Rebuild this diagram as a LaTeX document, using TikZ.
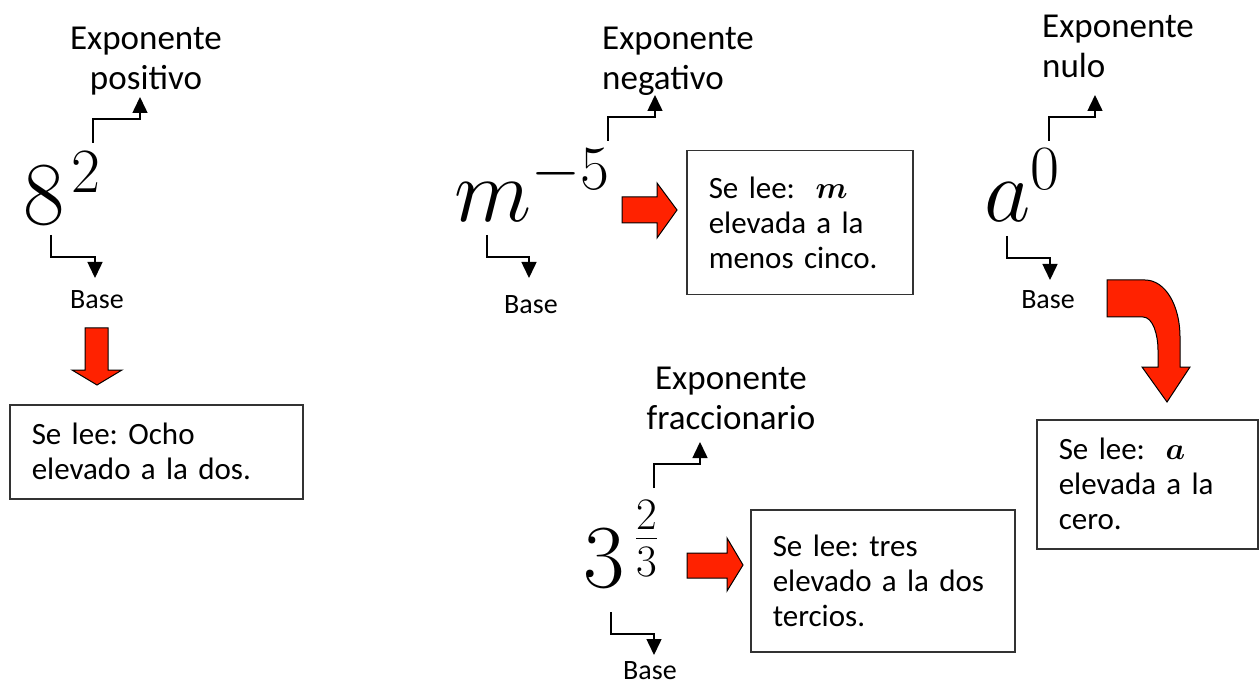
\RequirePackage{fix-cm}
\documentclass[tikz,border=0pt]{standalone}
\usepackage{amsmath}
\usepackage{fontspec}
\setmainfont{Carlito}
\usetikzlibrary{arrows.meta}

\definecolor{arrowred}{RGB}{255,34,0}
\definecolor{boxline}{RGB}{51,51,51}

\tikzset{
  pointer/.style={line width=1.5pt, -{Triangle[width=15pt,length=16pt]}},
  tagtext/.style={inner sep=0pt, font=\fontsize{35}{40}\selectfont},
  basetext/.style={inner sep=0pt, anchor=north, font=\fontsize{28}{32}\selectfont},
  power/.style={inner sep=0pt, anchor=base west, font=\fontsize{90}{90}\selectfont},
  readbox/.style={draw=boxline, line width=1.5pt, anchor=north west, align=left,
    inner xsep=22pt, inner ysep=4pt, font=\fontsize{31}{35}\selectfont},
  blockarrow/.style={fill=arrowred, draw=black, line width=1pt, line join=miter}
}

\begin{document}
\frenchspacing
\begin{tikzpicture}[x=1pt, y=-1pt]
    \useasboundingbox (0,0) rectangle (1260,684);

    % potencias
    \node[power] (pow1) at (23,225) {$8^{\mkern2mu 2}$};
    \node[power] (pow2) at (454,222) {$m^{-5}$};
    \node[power] (pow3) at (984,222) {$a^{0}$};
    \node[power] (pow4) at (583,587) {$3^{\,\frac{2}{3}}$};

    % nombres del exponente
    \node[tagtext, align=center, anchor=north] (exp1) at (146,27) {Exponente\\positivo};
    \node[tagtext, align=left, anchor=north west] (exp2) at (602,27) {Exponente\\negativo};
    \node[tagtext, align=left, anchor=north west] (exp3) at (1042,15) {Exponente\\nulo};
    \node[tagtext, align=center, anchor=north] (exp4) at (731,367) {Exponente\\fraccionario};

    % base
    \node[basetext] (base1) at (97,290) {Base};
    \node[basetext] (base2) at (531,295) {Base};
    \node[basetext] (base3) at (1048,290) {Base};
    \node[basetext] (base4) at (650,661) {Base};

    % como se lee
    \node[readbox, text width=249pt, minimum height=94pt] (read1) at (9,404)
        {Se lee: Ocho\\elevado a la dos.};
    \node[readbox, text width=182pt, minimum height=144pt] (read2) at (686,150)
        {Se lee:~ $\boldsymbol{m}$\\elevada a la\\menos cinco.};
    \node[readbox, text width=177pt, minimum height=129pt] (read3) at (1036,419)
        {Se lee:~ $\boldsymbol{a}$\\elevada a la\\cero.};
    \node[readbox, text width=220pt, minimum height=142pt] (read4) at (750,509)
        {Se lee: tres\\elevado a la dos\\tercios.};

    % flechas finas
    \coordinate (up1) at (93,143);   \coordinate (tip1) at (140,97);
    \coordinate (up2) at (608,141);  \coordinate (tip2) at (655,95);
    \coordinate (up3) at (1049,141); \coordinate (tip3) at (1095,95);
    \coordinate (up4) at (654,488);  \coordinate (tip4) at (700,442);
    \coordinate (dn1) at (51,235);   \coordinate (bt1) at (95,278);
    \coordinate (dn2) at (487,235);  \coordinate (bt2) at (529,278);
    \coordinate (dn3) at (1007,236); \coordinate (bt3) at (1050,280);
    \coordinate (dn4) at (611,612);  \coordinate (bt4) at (654,655);
    \foreach \a/\b in {up1/tip1, up2/tip2, up3/tip3, up4/tip4}
        \draw[pointer] (\a) -- ++(0,-24) -| (\b);
    \foreach \a/\b in {dn1/bt1, dn2/bt2, dn3/bt3, dn4/bt4}
        \draw[pointer] (\a) -- ++(0,22) -| (\b);

    % flechas rojas
    \draw[blockarrow] (85,328) -- (108,328) -- (108,370) -- (122,370) -- (97,385)
        -- (72,370) -- (85,370) -- cycle;
    \draw[blockarrow] (622,197) -- (657,197) -- (657,183) -- (677,210) -- (657,238)
        -- (657,223) -- (622,223) -- cycle;
    \draw[blockarrow] (687,553) -- (727,553) -- (727,538) -- (743,565) -- (727,591)
        -- (727,578) -- (687,578) -- cycle;
    \draw[blockarrow] (1107,280) -- (1145,280) .. controls (1165,280) and (1180,305) .. (1180,337)
        -- (1180,367) -- (1190,367) -- (1167,402) -- (1142,367) -- (1158,367) -- (1158,350)
        .. controls (1158,335) and (1153,317) .. (1143,317) -- (1107,317) -- cycle;
\end{tikzpicture}
\end{document}
